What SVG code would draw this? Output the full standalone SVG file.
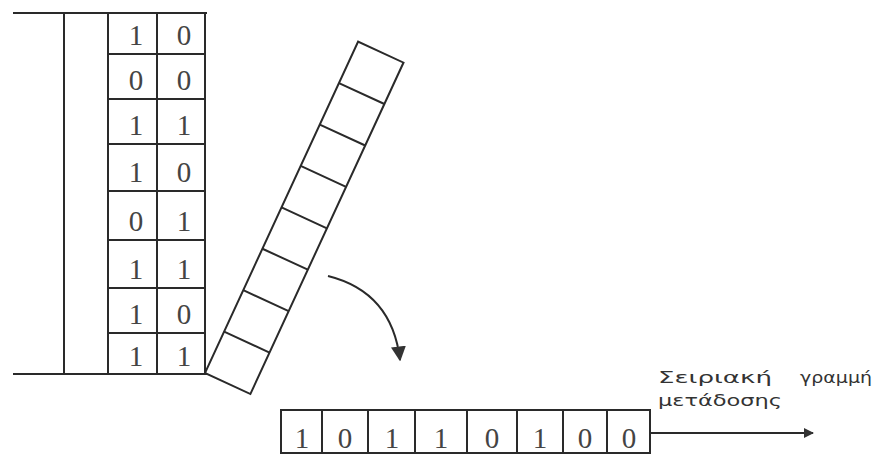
<svg xmlns="http://www.w3.org/2000/svg" width="875" height="457" viewBox="0 0 875 457">
<defs>
<style>
.ln{fill:none;stroke:#2a2a2a;stroke-width:2}
.d{font-family:"Liberation Serif","DejaVu Serif",serif;font-size:29px;fill:#444;text-anchor:middle}
.lb{font-family:"DejaVu Sans","Liberation Sans",sans-serif;font-size:16px;fill:#333}
</style>
<marker id="ah" viewBox="0 0 10 10" refX="9" refY="5" markerWidth="10" markerHeight="10" markerUnits="userSpaceOnUse" orient="auto"><path d="M0,0 L10,5 L0,10 Z" fill="#333"/></marker>
<marker id="ah2" viewBox="0 0 10 10" refX="9" refY="5" markerWidth="15" markerHeight="16" markerUnits="userSpaceOnUse" orient="auto"><path d="M0,0 L10,5 L0,10 Z" fill="#333"/></marker>
</defs>
<rect width="875" height="457" fill="#fff"/>

<g id="memory">
<path class="ln" d="M13,13 H207 M13,374 H207 M64,13 V374"/>
<rect class="ln" x="108" y="13" width="97" height="361"/>
<path class="ln" d="M157,13 V374 M108,54 H205 M108,99 H205 M108,144 H205 M108,191 H205 M108,240 H205 M108,288 H205 M108,333 H205"/>
<text class="d" x="136" y="45">1</text><text class="d" x="184" y="45">0</text>
<text class="d" x="136" y="90">0</text><text class="d" x="184" y="90">0</text>
<text class="d" x="136" y="135">1</text><text class="d" x="184" y="135">1</text>
<text class="d" x="136" y="182">1</text><text class="d" x="184" y="182">0</text>
<text class="d" x="136" y="231">0</text><text class="d" x="184" y="231">1</text>
<text class="d" x="136" y="279">1</text><text class="d" x="184" y="279">1</text>
<text class="d" x="136" y="324">1</text><text class="d" x="184" y="324">0</text>
<text class="d" x="136" y="366">1</text><text class="d" x="184" y="366">1</text>
</g>

<g id="tilted-register" transform="translate(205,373) rotate(24.8)">
<rect class="ln" x="0" y="-365" width="50" height="365"/>
<path class="ln" d="M0,-45.6 H50 M0,-91.2 H50 M0,-136.9 H50 M0,-182.5 H50 M0,-228.1 H50 M0,-273.7 H50 M0,-319.4 H50"/>
</g>

<g id="serial-register">
<rect class="ln" x="281" y="410" width="369" height="43"/>
<path class="ln" d="M322,410 V453 M368,410 V453 M415,410 V453 M467,410 V453 M517,410 V453 M563,410 V453 M607,410 V453"/>
<text class="d" x="302" y="448">1</text>
<text class="d" x="345" y="448">0</text>
<text class="d" x="392" y="448">1</text>
<text class="d" x="441" y="448">1</text>
<text class="d" x="492" y="448">0</text>
<text class="d" x="540" y="448">1</text>
<text class="d" x="585" y="448">0</text>
<text class="d" x="629" y="448">0</text>
</g>

<g id="label">
<text class="lb" x="658" y="383" textLength="114" lengthAdjust="spacingAndGlyphs">Σειριακή</text>
<text class="lb" x="800" y="383" textLength="72" lengthAdjust="spacingAndGlyphs">γραμμή</text>
<text class="lb" x="658" y="406" textLength="124" lengthAdjust="spacingAndGlyphs">μετάδοσης</text>
</g>

<g id="connectors">
<path class="ln" d="M328,276 Q392,292 400,360" marker-end="url(#ah2)"/>
<path class="ln" d="M650,433 H813" marker-end="url(#ah)"/>
</g>
</svg>
